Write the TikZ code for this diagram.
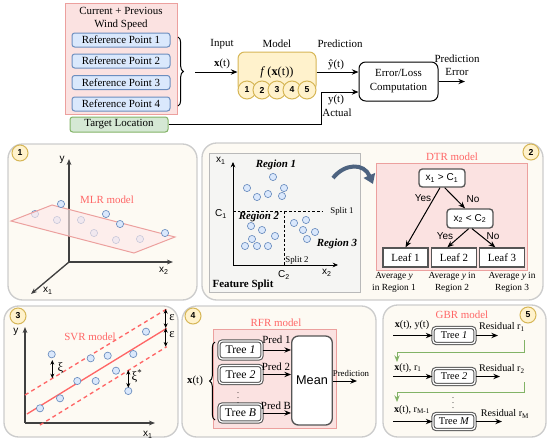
\documentclass[tikz,border=0pt]{standalone}
\usepackage{fontspec}
\setmainfont{Liberation Serif}
\setsansfont{Liberation Sans}
\usetikzlibrary{arrows.meta,decorations.pathreplacing}

\definecolor{pinkfill}{RGB}{251,226,225}
\definecolor{pinkline}{RGB}{236,160,158}
\definecolor{bluefill}{RGB}{218,232,252}
\definecolor{blueline}{RGB}{108,142,191}
\definecolor{greenfill}{RGB}{213,232,212}
\definecolor{greenline}{RGB}{130,179,102}
\definecolor{yellowfill}{RGB}{255,242,204}
\definecolor{yellowline}{RGB}{214,182,86}
\definecolor{panelfill}{RGB}{253,250,243}
\definecolor{panelline}{RGB}{204,204,204}
\definecolor{modelred}{RGB}{255,102,102}
\definecolor{splitfill}{RGB}{245,245,243}
\definecolor{splitline}{RGB}{185,185,185}
\definecolor{slate}{RGB}{77,99,128}
\definecolor{boxline}{RGB}{85,85,85}

\newcommand{\txtmain}{\fontsize{8.2}{9.8}\selectfont}
\newcommand{\txtsmall}{\fontsize{6.6}{7.6}\selectfont}
\newcommand{\txtcap}{\fontsize{7}{9}\selectfont}
\newcommand{\txtsans}{\sffamily\fontsize{7.5}{9}\selectfont}
\newcommand{\txtgreek}{\fontsize{9.5}{11}\selectfont}

\tikzset{every picture/.style={line width=0.75pt}}
\tikzset{
  arr/.style={-{Stealth[length=5pt,width=4pt]}},
  dblarr/.style={{Stealth[length=3.5pt,width=3pt]}-{Stealth[length=3.5pt,width=3pt]}},
  axisarr/.style={draw=black!75, line width=1pt, -{Stealth[length=4.5pt,width=3.5pt]}},
  panel/.style={draw=panelline, fill=panelfill, line width=1pt, rounded corners=11pt},
  badge/.style={circle, draw=yellowline, fill=yellowfill, minimum size=12pt, inner sep=0pt, font=\sffamily\bfseries\fontsize{6.5}{7}\selectfont},
  modcirc/.style={circle, draw=yellowline, fill=yellowfill, minimum size=13.5pt, inner sep=0pt, font=\sffamily\bfseries\fontsize{6.5}{7}\selectfont},
  refbox/.style={draw=blueline, fill=bluefill, rounded corners=2pt, minimum width=73.5pt, minimum height=10.5pt, inner sep=0pt},
  dot/.style={draw=blueline, fill=bluefill, line width=0.5pt},
  redlbl/.style={text=modelred},
  modelbox/.style={draw=pinkline, fill=pinkfill},
  decbox/.style={draw=boxline, fill=white, rounded corners=2.5pt, line width=1pt, minimum width=34.5pt, minimum height=13.5pt, inner sep=0pt, font=\txtsans},
  leafbox/.style={draw=boxline, fill=white, line width=1pt, minimum width=33.75pt, minimum height=14.25pt, inner sep=0pt},
  treebox/.style={draw=boxline, double=white, double distance=0.9pt, line width=0.8pt, rounded corners=2.5pt, fill=white, inner sep=0pt},
  vdotlbl/.style={inner sep=0pt, font=\fontsize{6}{6}\selectfont},
  greenarr/.style={draw=greenline, -{Stealth[length=5pt,width=4pt]}},
}

\begin{document}
\begin{tikzpicture}[x=0.75pt,y=0.75pt,yscale=-1,xscale=1,font=\txtmain]
\useasboundingbox (0,0) rectangle (550,447);

%%%%%%%% top: input -> model -> error
%Shape: Rectangle
\draw (121,58.5) node [modelbox, minimum width=84pt, minimum height=83.25pt] (windbox) {};
% Text Node
\draw (121,18.5) node [align=center, font=\fontsize{8.2}{9.75}\selectfont] (windlbl) {Current + Previous\\Wind Speed};
\foreach \i/\y in {1/40,2/61,3/82.5,4/104}{
  \draw (121,\y) node [refbox] (ref\i) {Reference Point \i};
}
%Shape: Brace
\draw [decorate, decoration={brace, amplitude=4pt}] (178,37) -- (178,106);
\coordinate (xin) at (195,72);

%Shape: Model
\draw (277,72) node [draw=yellowline, fill=yellowfill, rounded corners=5pt, minimum width=58.5pt, minimum height=30pt] (model) {};
\foreach \i/\x in {1/247,2/262,3/277,4/292,5/307}{
  \draw (\x,90) node [modcirc] (m\i) {\i};
}
\draw (277,72) node [font=\fontsize{9.3}{11}\selectfont] (fx) {\textit{f}\,(\textbf{x}(t))};

%Shape: Error box
\draw (398.5,81.5) node [draw, fill=white, rounded corners=5pt, minimum width=59.25pt, minimum height=29.25pt, align=center, font=\fontsize{8.2}{10.5}\selectfont] (error) {Error/Loss\\Computation};
%Shape: Target
\draw (119,124.5) node [draw=greenline, fill=greenfill, rounded corners=2pt, minimum width=73.5pt, minimum height=11.25pt, inner sep=0pt] (target) {Target Location};

%Straight Lines
\draw [arr] (xin) -- (model.west);
\draw [arr] (model.east) -- (model.east -| error.west);
\coordinate (actbend) at (321,92);
\draw [arr] (target.east) -| (actbend) -- (actbend -| error.west);
\coordinate (errout) at (465,81.5);
\draw [arr] (error.east) -- (errout);

% Text Node
\draw (222,44) node (inputlbl) {Input};
\draw (222,64) node (xlbl) {\textbf{x}(t)};
\draw (277,44) node (modellbl) {Model};
\draw (340,44) node (predlbl) {Prediction};
\draw (336,65) node (yhatlbl) {ŷ(t)};
\draw (336,100) node (ylbl) {y(t)};
\draw (337,113) node (actlbl) {Actual};
\draw (457,65.5) node [align=center, font=\fontsize{8.2}{9.75}\selectfont] (errlbl) {Prediction\\Error};

%%%%%%%% panel 1: MLR
\draw [panel] (8,144) rectangle (197,300);
\draw (20,153) node [badge] (b1) {1};
\coordinate (o1) at (69,262);
\coordinate (y1) at (69,159);
\coordinate (x21) at (173,262);
\coordinate (x11) at (31,294);
\draw [axisarr] (o1) -- (y1);
\draw [axisarr] (o1) -- (x21);
\draw [axisarr] (o1) -- (x11);
\foreach \x/\y in {35/214,57/220,81/220,94/233,116/240,140/239}{
  \draw [dot] (\x,\y) circle [radius=3.6];
}
%Shape: Plane
\draw [draw=pinkline, fill=pinkfill!80!modelred!40, fill opacity=0.65] (11,221) -- (52,205) -- (175,237) -- (134,253) -- cycle;
\foreach \x/\y in {61/204,106/214,120/224,165/233}{
  \draw [dot] (\x,\y) circle [radius=3.6];
}
\draw (107,200) node [redlbl] (mlrlbl) {MLR model};
\draw (62,160) node [font=\txtsans] (ylbl1) {y};
\draw (164,271) node [font=\txtsans] (x2lbl1) {x\textsubscript{2}};
\draw (48,291) node [font=\txtsans] (x1lbl1) {x\textsubscript{1}};

%%%%%%%% panel 2: DTR
\draw [panel] (202,143) rectangle (543,300);
\draw (531,152) node [badge] (b2) {2};
%Shape: Feature split
\draw (284.5,222.5) node [draw=splitline, fill=splitfill, minimum width=113.25pt, minimum height=104.25pt] (featbox) {};
\coordinate (o2) at (233,265);
\coordinate (x1end) at (233,162);
\coordinate (x2end) at (338,265);
\draw [-{Stealth[length=4pt,width=3.5pt]}] (o2) -- (x1end);
\draw [-{Stealth[length=4pt,width=3.5pt]}] (o2) -- (x2end);
\coordinate (c1) at (233,211);
\coordinate (s1end) at (323,211);
\coordinate (c2) at (284,211);
\coordinate (c2end) at (284,265);
\draw [line width=0.6pt, dash pattern=on 2pt off 1.5pt] (c1) -- (s1end);
\draw [line width=0.6pt, dash pattern=on 2pt off 1.5pt] (c2) -- (c2end);
\foreach \x/\y in {273/177,247/188,284/188,257/197,268/194,282/196,
                   251/226,262/230,252/239,275/236,245/246,257/246,268/246,
                   294/223,306/220,303/230,315/232,307/239}{
  \draw [dot] (\x,\y) circle [radius=3.6];
}
\draw (221,161) node [font=\txtsans] (x1lbl2) {x\textsubscript{1}};
\draw (221,214) node [font=\txtsans] (c1lbl) {C\textsubscript{1}};
\draw (284,275) node [font=\txtsans] (c2lbl) {C\textsubscript{2}};
\draw (327,273) node [font=\txtsans] (x2lbl2) {x\textsubscript{2}};
\draw (342,211) node [font=\txtsmall] (split1) {Split 1};
\draw (297,260) node [font=\txtsmall] (split2) {Split 2};
\draw (276,165) node [font=\txtmain\bfseries\itshape] (reg1) {Region 1};
\draw (259,217) node [font=\txtmain\bfseries\itshape] (reg2) {Region 2};
\draw (337,244) node [font=\txtmain\bfseries\itshape] (reg3) {Region 3};
\draw (243,285) node [font=\txtmain\bfseries] (featlbl) {Feature Split};

%Curve Lines
\coordinate (arcA) at (333,178);
\coordinate (arcB) at (373,184);
\draw [slate, line width=3pt, -{Triangle[length=7pt,width=9pt]}] (arcA) .. controls (345,163) and (364,163) .. (arcB);

%Shape: DTR box
\draw (451.5,216.5) node [modelbox, minimum width=113.25pt, minimum height=80.25pt] (dtrbox) {};
\draw (452,157) node [redlbl] (dtrlbl) {DTR model};
\draw (442,178) node [decbox] (dec1) {x\textsubscript{1} > C\textsubscript{1}};
\draw (470,218.5) node [decbox, minimum height=14.25pt] (dec2) {x\textsubscript{2} < C\textsubscript{2}};
\draw (405.5,257.5) node [leafbox] (leaf1) {Leaf 1};
\draw (454,257.5) node [leafbox] (leaf2) {Leaf 2};
\draw (502,257.5) node [leafbox] (leaf3) {Leaf 3};
\draw [arr] ([xshift=-1.5pt]dec1.south) -- (leaf1.north);
\draw [arr] ([xshift=2pt]dec1.south) -- ([xshift=-3.75pt]dec2.north);
\draw [arr] ([xshift=-1pt]dec2.south) -- ([xshift=-5pt]leaf2.north);
\draw [arr] ([xshift=1.5pt]dec2.south) -- ([xshift=-5pt]leaf3.north);
\draw (423,198) node [font=\txtsans] (yes1) {Yes};
\draw (473,199) node [font=\txtsans] (no1) {No};
\draw (445,236) node [font=\txtsans] (yes2) {Yes};
\draw (493,236) node [font=\txtsans] (no2) {No};
\draw (394,282) node [align=center, font=\txtcap] (cap1) {Average \textit{y}\\in Region 1};
\draw (452,282) node [align=center, font=\txtcap] (cap2) {Average \textit{y} in\\Region 2};
\draw (512,282) node [align=center, font=\txtcap] (cap3) {Average \textit{y} in\\Region 3};

%%%%%%%% panel 3: SVR
\draw [panel] (4,306) rectangle (178,437);
\draw (18,316) node [badge] (b3) {3};
\coordinate (o3) at (25,423);
\coordinate (y3) at (25,327);
\coordinate (x3) at (155,423);
\draw [axisarr] (o3) -- (y3);
\draw [axisarr] (o3) -- (x3);
\coordinate (svrA) at (27,414);
\coordinate (svrB) at (166.7,328.3);
\coordinate (upA) at (25,395);
\coordinate (upB) at (166.7,309);
\coordinate (loA) at (40,425);
\coordinate (loB) at (166.7,346.7);
\draw [modelred, line width=1pt] (svrA) -- (svrB);
\draw [modelred, line width=1pt, dash pattern=on 3pt off 2.5pt] (upA) -- (upB);
\draw [modelred, line width=1pt, dash pattern=on 3pt off 2.5pt] (loA) -- (loB);
\foreach \x/\y in {40/408.3,60/398.3,77.3/381,95.7/381,51.7/354.3,90.7/358.3,107.7/355.7,133.3/354,146/331.7,116/370.7,128.3/391}{
  \draw [dot] (\x,\y) circle [radius=3.6];
}
\coordinate (xiA) at (52.3,360);
\coordinate (xiB) at (52.3,378.3);
\coordinate (xsA) at (128.3,370);
\coordinate (xsB) at (128.3,387.7);
\coordinate (eA) at (165.7,309);
\coordinate (eB) at (165.7,328);
\coordinate (eC) at (165.7,346.7);
\draw [dblarr] (xiA) -- (xiB);
\draw [dblarr] (xsA) -- (xsB);
\draw [dblarr] (eA) -- (eB);
\draw [dblarr] (eB) -- (eC);
\draw (60.5,368) node [font=\txtgreek] (xilbl) {ξ};
\draw (137,376) node [font=\txtgreek] (xislbl) {ξ\textsuperscript{*}};
\draw (172,318) node [font=\txtgreek] (eps1) {ε};
\draw (172,335) node [font=\txtgreek] (eps2) {ε};
\draw (90,336.7) node [redlbl] (svrlbl) {SVR model};
\draw (16,332) node [font=\txtsans] (ylbl3) {y};
\draw (148,435) node [font=\txtsans] (x1lbl3) {x\textsubscript{1}};

%%%%%%%% panel 4: RFR
\draw [panel] (182,306) rectangle (376,437);
\draw (193,316) node [badge] (b4) {4};
\draw (274.5,378.5) node [modelbox, minimum width=92.25pt, minimum height=74.25pt] (rfrbox) {};
\draw (276,323) node [redlbl] (rfrlbl) {RFR model};
\draw (312,380.5) node [draw=boxline, fill=white, rounded corners=5pt, line width=1pt, minimum width=30pt, minimum height=66.75pt, font=\sffamily\fontsize{9.5}{11}\selectfont] (mean) {Mean};
\foreach \n/\t/\y in {1/1/350,2/2/374.5,B/B/413}{
  \draw (240.5,\y) node [treebox, minimum width=32.25pt, minimum height=13.5pt, font=\fontsize{8.8}{10}\selectfont] (rt\n) {Tree \textit{\t}};
  \draw [arr] (rt\n.east) -- (rt\n.east -| mean.west);
}
\draw (238,394) node [vdotlbl] (rdots) {$\vdots$};
\draw (276.5,340) node (pred1) {Pred 1};
\draw (276,367) node (pred2) {Pred 2};
\draw (276,406) node (predB) {Pred B};
\draw [decorate, decoration={brace, amplitude=4pt}] (215,420) -- (215,342);
\draw (195,381) node (xrfr) {\textbf{x}(t)};
\coordinate (rfrout) at (357,381);
\draw [arr] (mean.east |- rfrout) -- (rfrout);
\draw (351,373) node [font=\txtsmall] (rfrpred) {Prediction};

%%%%%%%% panel 5: GBR
\draw [panel] (383,305) rectangle (546,437);
\draw (528,315) node [badge] (b5) {5};
\draw (462,315) node [redlbl] (gbrlbl) {GBR model};
\foreach \n/\t/\y/\e in {1/1/335.5/498,2/2/376.5/500,M/M/421.5/502}{
  \draw (454,\y) node [treebox, minimum width=31.5pt, minimum height=12pt, font=\fontsize{7.8}{9}\selectfont] (gt\n) {Tree \textit{\t}};
  \coordinate (gin\n) at (393,\y);
  \coordinate (gout\n) at (\e,\y);
  \draw [arr] (gin\n) -- (gt\n.west);
  \draw [arr] (gt\n.east) -- (gout\n);
}
\draw (453,399) node [vdotlbl] (gdots) {$\vdots$};
\draw (412,325) node [font=\fontsize{7.6}{9}\selectfont] (gin1lbl) {\textbf{x}(t), y(t)};
\draw (408,368) node [font=\fontsize{7.6}{9}\selectfont] (gin2lbl) {\textbf{x}(t), r\textsubscript{1}};
\draw (412,410) node [font=\fontsize{7.6}{9}\selectfont] (ginMlbl) {\textbf{x}(t), r\textsubscript{M-1}};
\draw (502,327) node [font=\fontsize{7.6}{9}\selectfont] (res1) {Residual r\textsubscript{1}};
\draw (502,369) node [font=\fontsize{7.6}{9}\selectfont] (res2) {Residual r\textsubscript{2}};
\draw (505,414) node [font=\fontsize{7.6}{9}\selectfont] (resM) {Residual r\textsubscript{M}};
\coordinate (gr1) at (524,340);
\coordinate (gr2) at (524,382);
\coordinate (gnext2) at (397,362);
\coordinate (gnextM) at (397,402);
\draw [greenarr] (gr1) -- ++(0,12) -| (gnext2);
\draw [greenarr] (gr2) -- ++(0,10) -| (gnextM);

\end{tikzpicture}
\end{document}
